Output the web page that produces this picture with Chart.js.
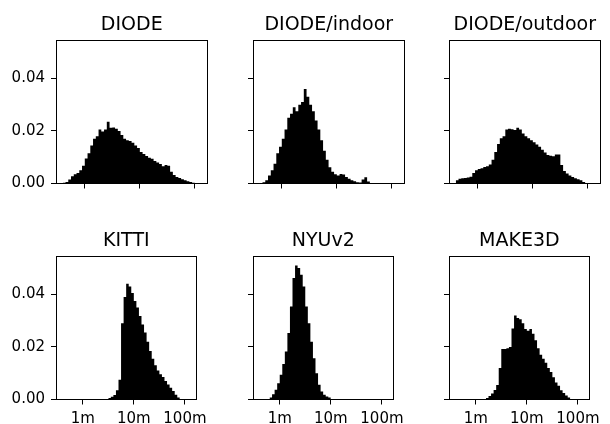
<!DOCTYPE html>
<html lang="en">
<head>
  <meta charset="UTF-8">
  <title>Depth distributions</title>
  <script src="https://cdn.jsdelivr.net/npm/chart.js"></script>
  <style>
    html, body { margin: 0; padding: 0; background: #fff; overflow: hidden; }
    #page { position: relative; width: 610px; height: 424px; }
    .panel { position: absolute; }
  </style>
</head>
<body>
  <div id="page"></div>

  <script>
    // histogram bins: log10 of the first bin edge, fixed width in log10 (metres)
    const binStep = 0.05;
    const titles = ['DIODE', 'DIODE/indoor', 'DIODE/outdoor', 'KITTI', 'NYUv2', 'MAKE3D'];
    const binStart = [-0.4, -0.4, -0.4, 0.5, -0.2, 0.2];

    // bin heights (density)
    const diodeAll = [0.0003, 0.0006, 0.0015, 0.0028, 0.0035, 0.0040, 0.0050, 0.0068, 0.0095, 0.0115,
      0.0145, 0.0170, 0.0180, 0.0205, 0.0198, 0.0205, 0.0235, 0.0212, 0.0213, 0.0208,
      0.0200, 0.0185, 0.0170, 0.0165, 0.0162, 0.0155, 0.0145, 0.0135, 0.0120, 0.0112,
      0.0105, 0.0098, 0.0094, 0.0086, 0.0080, 0.0074, 0.0066, 0.0070, 0.0068, 0.0045,
      0.0032, 0.0025, 0.0021, 0.0016, 0.0012, 0.0009, 0.0006, 0.0003];
    const diodeIndoor = [0.0002, 0.0005, 0.0012, 0.0030, 0.0050, 0.0075, 0.0115, 0.0140, 0.0170, 0.0205,
      0.0250, 0.0265, 0.0290, 0.0275, 0.0300, 0.0310, 0.0360, 0.0330, 0.0300, 0.0275,
      0.0240, 0.0205, 0.0165, 0.0125, 0.0090, 0.0062, 0.0045, 0.0035, 0.0030, 0.0036,
      0.0034, 0.0025, 0.0018, 0.0012, 0.0009, 0.0005, 0.0004, 0.0015, 0.0024, 0.0008,
      0.0002];
    const diodeOutdoor = [0.0012, 0.0018, 0.0020, 0.0021, 0.0023, 0.0026, 0.0040, 0.0050, 0.0055, 0.0058,
      0.0063, 0.0066, 0.0072, 0.0090, 0.0120, 0.0150, 0.0172, 0.0180, 0.0205, 0.0208,
      0.0206, 0.0204, 0.0212, 0.0205, 0.0190, 0.0180, 0.0172, 0.0165, 0.0157, 0.0148,
      0.0140, 0.0128, 0.0118, 0.0108, 0.0106, 0.0104, 0.0110, 0.0110, 0.0070, 0.0048,
      0.0038, 0.0030, 0.0025, 0.0020, 0.0016, 0.0012, 0.0006, 0.0002];
    const kitti = [0.0006, 0.0010, 0.0017, 0.0035, 0.0075, 0.0290, 0.0390, 0.0440, 0.0430, 0.0405,
      0.0375, 0.0350, 0.0318, 0.0285, 0.0255, 0.0220, 0.0185, 0.0155, 0.0130, 0.0110,
      0.0096, 0.0086, 0.0070, 0.0057, 0.0045, 0.0032, 0.0018, 0.0008];
    const nyu = [0.0008, 0.0020, 0.0037, 0.0062, 0.0094, 0.0135, 0.0183, 0.0253, 0.0354, 0.0462,
      0.0510, 0.0500, 0.0475, 0.0430, 0.0354, 0.0290, 0.0220, 0.0157, 0.0100, 0.0056,
      0.0030, 0.0018, 0.0011, 0.0008];
    const make3d = [0.0006, 0.0013, 0.0023, 0.0036, 0.0055, 0.0120, 0.0192, 0.0192, 0.0195, 0.0200,
      0.0270, 0.0320, 0.0310, 0.0305, 0.0290, 0.0268, 0.0262, 0.0268, 0.0250, 0.0225,
      0.0195, 0.0170, 0.0155, 0.0140, 0.0120, 0.0105, 0.0085, 0.0065, 0.0052, 0.0035,
      0.0025, 0.0015, 0.0008];
    const series = [diodeAll, diodeIndoor, diodeOutdoor, kitti, nyu, make3d];

    const xTickValues = [1, 10, 100];
    const xTickLabels = ['1m', '10m', '100m'];
    const yTickValues = [0, 0.02, 0.04];
    const yTickLabels = ['0.00', '0.02', '0.04'];

    // panel layout (plot area of each subplot, in page pixels)
    const colLeft = [56, 252.7, 449.3];
    const rowTop = [39.8, 255.8];
    const plotW = 151.5, plotH = 143.5;
    const yAxisW = 52, titleH = 40, xAxisH = 28.5;
    const canvasW = 210, canvasH = 212;

    const font = 'DejaVu Sans';
    const titleSize = 19;

    // draws the box round each subplot
    const frame = {
      id: 'frame',
      afterDatasetsDraw(chart) {
        const a = chart.chartArea, ctx = chart.ctx;
        const l = Math.round(a.left) + 0.5, t = Math.round(a.top) + 0.5;
        const r = Math.round(a.right) - 0.5, b = Math.round(a.bottom) - 0.5;
        ctx.save();
        ctx.strokeStyle = '#000';
        ctx.lineWidth = 1;
        ctx.strokeRect(l, t, r - l, b - t);
        ctx.restore();
      }
    };

    const toPoints = (values, start) => {
      const pts = values.map((v, i) => ({ x: Math.pow(10, start + i * binStep), y: v }));
      pts.push({ x: Math.pow(10, start + values.length * binStep), y: 0 });
      return pts;
    };

    const page = document.getElementById('page');

    series.forEach((values, k) => {
      const col = k % 3, row = Math.floor(k / 3);
      const holder = document.createElement('div');
      holder.className = 'panel';
      holder.style.left = (colLeft[col] - yAxisW) + 'px';
      holder.style.top = (rowTop[row] - titleH) + 'px';
      const canvas = document.createElement('canvas');
      canvas.width = canvasW;
      canvas.height = canvasH;
      holder.appendChild(canvas);
      page.appendChild(holder);

      const showX = row === 1, showY = col === 0;

      new Chart(canvas.getContext('2d'), {
        type: 'line',
        data: {
          datasets: [{
            data: toPoints(values, binStart[k]),
            stepped: 'before',
            fill: 'origin',
            backgroundColor: '#000',
            borderWidth: 0,
            pointRadius: 0
          }]
        },
        options: {
          responsive: false,
          animation: false,
          events: [],
          layout: { padding: { left: 0, top: 0, right: canvasW - yAxisW - plotW, bottom: 0 } },
          plugins: {
            legend: { display: false },
            tooltip: { enabled: false },
            title: {
              display: true,
              text: titles[k],
              fullSize: false,
              color: '#000',
              font: { family: font, size: titleSize, weight: 'normal', lineHeight: 1.2 },
              padding: { top: 14, bottom: titleH - 14 - titleSize * 1.2 }
            }
          },
          scales: {
            x: {
              type: 'logarithmic',
              min: 0.331,
              max: 169.5,
              afterBuildTicks: (s) => { s.ticks = xTickValues.map(v => ({ value: v })); },
              afterFit: (s) => { s.height = xAxisH; },
              grid: { drawOnChartArea: false, drawTicks: true, tickLength: 5, color: '#000', lineWidth: 1 },
              border: { display: false },
              ticks: {
                autoSkip: false,
                maxRotation: 0,
                padding: 6,
                color: '#000',
                font: { family: font, size: 15 },
                callback: (v, i) => showX ? xTickLabels[i] : ''
              }
            },
            y: {
              min: 0,
              max: 0.0546,
              afterBuildTicks: (s) => { s.ticks = yTickValues.map(v => ({ value: v })); },
              afterFit: (s) => { s.width = yAxisW; },
              grid: { drawOnChartArea: false, drawTicks: true, tickLength: 5, color: '#000', lineWidth: 1 },
              border: { display: false },
              ticks: {
                padding: 6,
                color: '#000',
                font: { family: font, size: 15 },
                callback: (v, i) => showY ? yTickLabels[i] : ''
              }
            }
          }
        },
        plugins: [frame]
      });
    });
  </script>
</body>
</html>
